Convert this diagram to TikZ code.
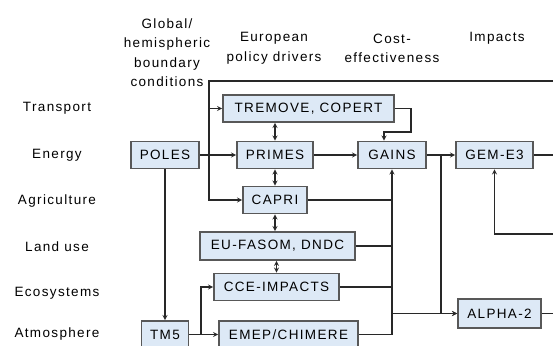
\documentclass[tikz,border=0pt]{standalone}
\usepackage{fontspec}
\setmainfont{Liberation Sans}[LetterSpace=10]
\definecolor{modelfill}{RGB}{221,233,246}
\definecolor{modeledge}{RGB}{88,88,88}
\definecolor{linkcol}{RGB}{40,40,40}
\tikzset
 {> = stealth,                              % small solid tips on every link
  every node/.style = {font=\fontsize{13.5}{19.5}\selectfont},
  model/.style =                           % a model is a pale blue box
   {draw=modeledge, fill=modelfill, line width=1.6pt,
    minimum height=27pt, inner sep=0pt
   },
  heading/.style = {align=center},         % column headings on top
  sector/.style = {},                      % row names on the left
  link/.style = {draw=linkcol, line width=1.3pt}   % lines between models
 }
\begin{document}
\begin{tikzpicture}[x=1pt, y=-1pt]
    \useasboundingbox (0,0) rectangle (553,345);
    % column headings
    \node[heading] (hglobal) at (167,52.5) {Global/\\hemispheric\\boundary\\conditions};
    \node[heading] (heurope) at (274,48.5) {European\\policy drivers};
    \node[heading] (hcost) at (392,48.5) {Cost-\\effectiveness};
    \node[heading] (himpacts) at (497,38) {Impacts};
    % sector rows
    \foreach \name/\y/\text in {transport/108/Transport, energy/155/Energy,
        agriculture/201/Agriculture, landuse/247/Land use,
        ecosystems/293/Ecosystems, atmosphere/334/Atmosphere}
    \node[sector] (\name) at (57,\y) {\text};
    % models
    \node[model, minimum width=171] (tremove) at (308.5,108.5) {TREMOVE, COPERT};
    \node[model, minimum width=68] (poles) at (165,155) {POLES};
    \node[model, minimum width=76] (primes) at (275,155) {PRIMES};
    \node[model, minimum width=64] (capri) at (275,200) {CAPRI};
    \node[model, minimum width=68] (gains) at (392,155) {GAINS};
    \node[model, minimum width=77] (geme) at (494.5,155) {GEM-E3};
    \node[model, minimum width=155, minimum height=28] (eufasom) at (277.5,246) {EU-FASOM, DNDC};
    \node[model, minimum width=125] (cce) at (276.5,287) {CCE-IMPACTS};
    \node[model, minimum width=47] (tm5) at (165,334.5) {TM5};
    \node[model, minimum width=139] (emep) at (288.5,334.5) {EMEP/CHIMERE};
    \node[model, minimum width=83, minimum height=29] (alpha) at (499.5,313.5) {ALPHA-2};
    % free ends
    \coordinate (out) at (553,0);
    \coordinate (feedback) at (553,81);
    \coordinate (corner) at (209,81);
    \coordinate (back) at (553,234);
    \coordinate (split) at (441,155);
    \coordinate (branch) at (201,334.5);
    % links
    \draw[link,->] (feedback) -- (corner) |- (capri);
    \draw[link,->] (corner |- tremove) -- (tremove);
    \draw[link,->] (poles) -- (primes);
    \draw[link,<->] (tremove.south -| primes) -- (primes);
    \draw[link,<->] (primes) -- (capri);
    \draw[link,<->] (capri.south) -- (capri.south |- eufasom.north);
    \draw[link,<->] (cce.north) -- (cce.north |- eufasom.south);
    \draw[link,->] (primes) -- (gains);
    \draw[link,->] (gains) -- (geme);
    \draw[link,->] (tremove.east) -- (411,108.5) -- (411,132) -| ([xshift=-8pt]gains.north);
    \draw[link,->] (emep) -| (gains);
    \draw[link] (capri) -- (capri -| gains);
    \draw[link] (eufasom) -- (eufasom -| gains);
    \draw[link] (cce) -- (cce -| gains);
    \draw[link,->] (gains |- alpha) -- (alpha);
    \draw[link,->] (split) |- (alpha);
    \draw[link] (geme) -- (geme -| out);
    \draw[link,->] (back) -| (geme);
    \draw[link] (alpha) -- (alpha -| out);
    \draw[link,->] (poles) -- (tm5);
    \draw[link,->] (tm5) -- (emep);
    \draw[link,->] (branch) |- (cce);
\end{tikzpicture}
\end{document}
